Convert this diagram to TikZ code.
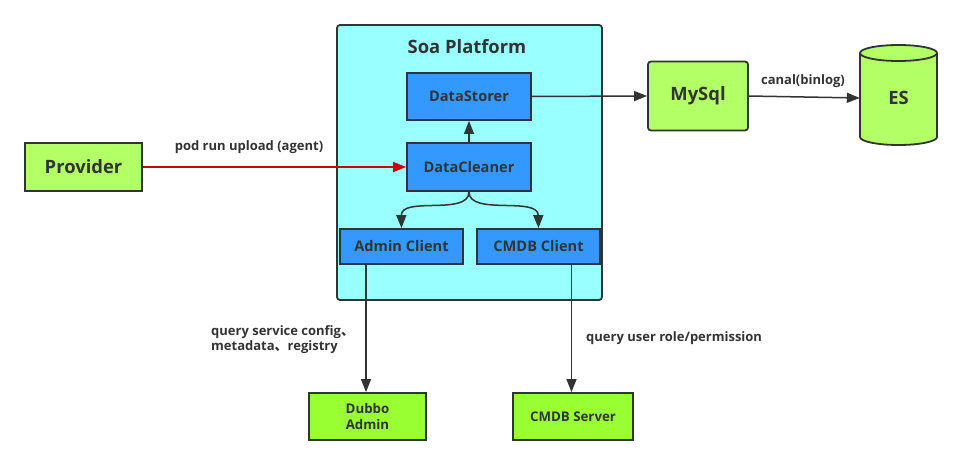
\documentclass[tikz,border=0pt]{standalone}
\usepackage{fontspec}
\setmainfont{Open Sans}
\newfontfamily\cjk{Noto Sans CJK SC}
\usetikzlibrary{arrows.meta}
\definecolor{ink}{HTML}{333333}
\definecolor{cyanbg}{HTML}{99FFFF}
\definecolor{bluebox}{HTML}{3399FF}
\definecolor{lightgreen}{HTML}{B3FF66}
\definecolor{brightgreen}{HTML}{99FF33}
\definecolor{redline}{HTML}{CC0000}
\begin{document}
\begin{tikzpicture}[x=1pt,y=-1pt,
  box/.style={draw=ink, line width=1.8pt, text=ink, inner sep=0pt, font=\bfseries},
  bluenode/.style={box, fill=bluebox, font=\bfseries\fontsize{14.6}{17}\selectfont},
  bignode/.style={box, fill=lightgreen, font=\bfseries\fontsize{18.4}{21}\selectfont},
  servernode/.style={box, fill=brightgreen, font=\bfseries\fontsize{13.3}{16}\selectfont, align=center},
  conn/.style={draw=ink, line width=1.5pt, -{Triangle[length=13pt,width=10pt]}},
  lbl/.style={text=ink, inner sep=0pt, font=\bfseries\fontsize{13}{15}\selectfont},
]
\useasboundingbox (0,0) rectangle (961,466);
% container
\node[box, fill=cyanbg, rounded corners=3pt, minimum width=265pt, minimum height=275pt] (soa) at (469.5,162.5) {};
\node[text=ink, font=\bfseries\fontsize{18.4}{21}\selectfont] (soatitle) at (467,47) {Soa Platform};
% inner boxes
\node[bluenode, minimum width=124pt, minimum height=47pt] (ds) at (469,96.5) {DataStorer};
\node[bluenode, minimum width=124pt, minimum height=48pt] (dc) at (469,167) {DataCleaner};
\node[bluenode, minimum width=123pt, minimum height=35pt] (ac) at (401.5,246.5) {Admin Client};
\node[bluenode, minimum width=123pt, minimum height=35pt] (cc) at (538.5,246.5) {CMDB Client};
% outer boxes
\node[bignode, minimum width=117pt, minimum height=48pt] (prov) at (83.5,167) {Provider};
\node[bignode, rounded corners=3pt, minimum width=100pt, minimum height=69pt] (mysql) at (698,96) {MySql};
% ES cylinder
\fill[lightgreen] (860,53) -- (860,137) arc[start angle=180,end angle=360,x radius=38.5pt,y radius=8pt] -- (937,53) arc[start angle=0,end angle=180,x radius=38.5pt,y radius=8pt] -- cycle;
\draw[ink, line width=1.8pt] (860,53) -- (860,137) arc[start angle=180,end angle=360,x radius=38.5pt,y radius=8pt] -- (937,53);
\draw[ink, line width=1.8pt] (898.5,53) ellipse[x radius=38.5pt,y radius=8pt];
\node[text=ink, inner sep=0pt, minimum width=77pt, minimum height=100pt, font=\bfseries\fontsize{18.4}{21}\selectfont] (es) at (898.5,98) {ES};
% bottom servers
\node[servernode, minimum width=117pt, minimum height=47pt] (dubbo) at (367.5,416.5) {Dubbo\\Admin};
\node[servernode, minimum width=120pt, minimum height=47pt] (cmdbs) at (573,416.5) {CMDB Server};
% connectors
\draw[conn, draw=redline, color=redline] (prov.east) -- (dc.west);
\draw[conn] (dc.north) -- (ds.south);
\draw[conn] (ds.east) -- (mysql.west);
\draw[conn] (mysql.east) -- (es.west);
\draw[conn] (dc.south) .. controls (469,216) and (401,196) .. (ac.north);
\draw[conn] (dc.south) .. controls (469,216) and (538,196) .. (cc.north);
\coordinate (acb) at (366,263);
\coordinate (ccb) at (571.5,263);
\draw[conn] (acb) -- (acb |- dubbo.north);
\draw[conn] (ccb) -- (ccb |- cmdbs.north);
% labels
\node[lbl] (l1) at (249,147) {pod run upload (agent)};
\node[lbl] (l2) at (803,81) {canal(binlog)};
\node[lbl, anchor=west, align=left] (l3) at (211,340) {query service config{\cjk 、}\\metadata{\cjk 、}registry};
\node[lbl, anchor=west] (l4) at (586,338) {query user role/permission};
\end{tikzpicture}
\end{document}
